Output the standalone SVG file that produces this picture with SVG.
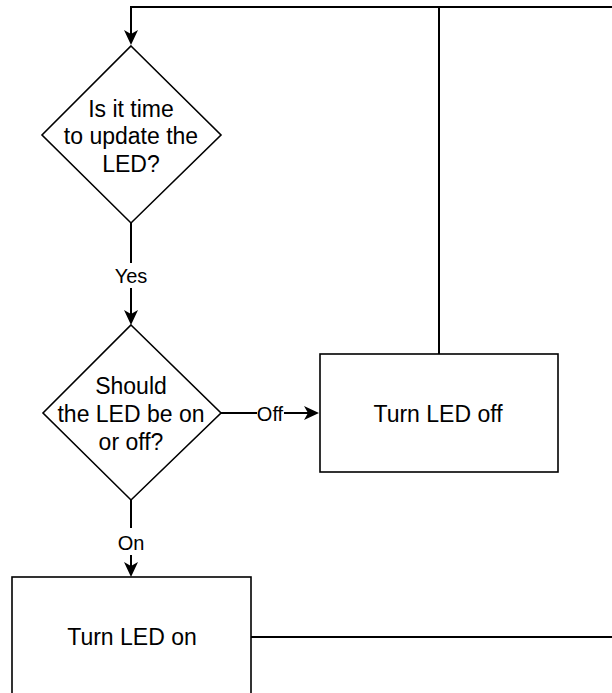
<svg xmlns="http://www.w3.org/2000/svg" width="612" height="693" viewBox="0 0 612 693">
  <style>
    .shape { fill: #ffffff; stroke: #000000; stroke-width: 1.6; }
    .edge { fill: none; stroke: #000000; stroke-width: 2; }
    .txt { font-family: "Liberation Sans", Arial, sans-serif; font-size: 23px; fill: #000000; text-anchor: middle; }
    .lbl { font-family: "Liberation Sans", Arial, sans-serif; font-size: 20px; fill: #000000; text-anchor: middle; }
    .lblbg { fill: #ffffff; stroke: none; }
  </style>
  <defs>
    <marker id="arrow" markerUnits="userSpaceOnUse" markerWidth="16" markerHeight="16" viewBox="0 -8 16 16" refX="11" refY="0" orient="auto">
      <path d="M0,-7 L15,0 L0,7 L4,0 Z" fill="#000000"/>
    </marker>
  </defs>
  <rect width="612" height="693" fill="#ffffff"/>

  <g id="connectors">
    <!-- loop back from Turn LED off -->
    <polyline class="edge" points="439,354 439,7 131,7 131,41" marker-end="url(#arrow)"/>
    <line class="edge" x1="439" y1="7" x2="612" y2="7"/>
    <!-- Yes -->
    <line class="edge" x1="131" y1="223" x2="131" y2="321" marker-end="url(#arrow)"/>
    <rect class="lblbg" x="114" y="263" width="34" height="25"/>
    <text class="lbl" x="131" y="283">Yes</text>
    <!-- Off -->
    <line class="edge" x1="221" y1="413" x2="315" y2="413" marker-end="url(#arrow)"/>
    <rect class="lblbg" x="257" y="402" width="27" height="22"/>
    <text class="lbl" x="270" y="421">Off</text>
    <!-- On -->
    <line class="edge" x1="131" y1="500" x2="131" y2="573" marker-end="url(#arrow)"/>
    <rect class="lblbg" x="116" y="528" width="30" height="27"/>
    <text class="lbl" x="131" y="550">On</text>
    <!-- from Turn LED on -->
    <line class="edge" x1="251" y1="637" x2="612" y2="637"/>
  </g>

  <g id="node-update">
    <polygon class="shape" points="131,46 221,135 131,223 42,135"/>
    <text class="txt" x="131" y="117">Is it time</text>
    <text class="txt" x="131" y="144">to update the</text>
    <text class="txt" x="131" y="172">LED?</text>
  </g>

  <g id="node-onoff">
    <polygon class="shape" points="131,325 221,413 131,500 43,413"/>
    <text class="txt" x="131" y="394">Should</text>
    <text class="txt" x="131" y="422">the LED be on</text>
    <text class="txt" x="131" y="450">or off?</text>
  </g>

  <g id="node-off">
    <rect class="shape" x="320" y="354" width="238" height="118"/>
    <text class="txt" x="438" y="422">Turn LED off</text>
  </g>

  <g id="node-on">
    <rect class="shape" x="12" y="577" width="239" height="130"/>
    <text class="txt" x="132" y="645">Turn LED on</text>
  </g>
</svg>
